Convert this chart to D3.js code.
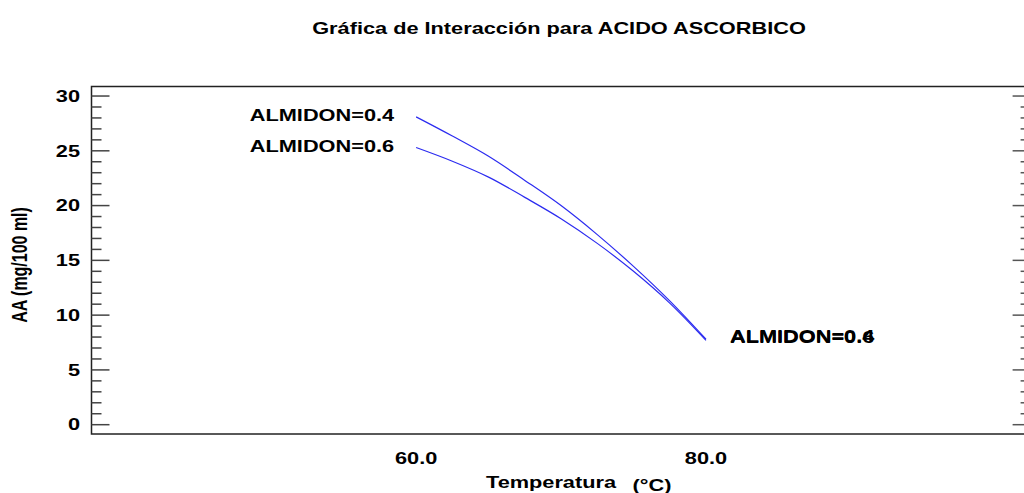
<!DOCTYPE html>
<html>
<head>
<meta charset="utf-8">
<script src="https://cdn.jsdelivr.net/npm/d3@7"></script>
<style>
  body { margin: 0; background: #fff; }
  text { font-family: "Liberation Sans", Arial, sans-serif; font-weight: bold; fill: #000; }
</style>
</head>
<body>
<div id="chart"></div>
<script>
// data
const temps = [60, 62.5, 65, 67.5, 70, 72.5, 75, 77.5, 80];
const almidon04 = [28.1, 26.35, 24.5, 22.3, 20.0, 17.35, 14.45, 11.3, 7.8];
const almidon06 = [25.3, 24.05, 22.6, 20.75, 18.8, 16.55, 14.0, 11.1, 7.7];
const seriesNames = ["ALMIDON=0.4", "ALMIDON=0.6"];
const xTickValues = [60, 80];
const yTickValues = [0, 5, 10, 15, 20, 25, 30];

const W = 1024, H = 493;
const sx = 1.36; // picture is stretched horizontally

const svg = d3.select("#chart").append("svg")
    .attr("width", W)
    .attr("height", H);

// scales
const x = d3.scaleLinear().domain([37.6, 102.4]).range([91.5, 1030.6]);
const y = d3.scaleLinear().domain([-0.85, 30.87]).range([434, 86.5]);

function label(g, tx, ty, str, anchor, size) {
    return g.append("text")
        .attr("transform", `translate(${tx},${ty}) scale(${sx},1)`)
        .attr("text-anchor", anchor)
        .attr("font-size", size || 16)
        .text(str);
}

// title
label(svg, 559, 34, "Gráfica de Interacción para ACIDO ASCORBICO", "middle");

// frame
svg.append("rect")
    .attr("x", x.range()[0])
    .attr("y", y.range()[1])
    .attr("width", x.range()[1] - x.range()[0])
    .attr("height", y.range()[0] - y.range()[1])
    .attr("fill", "none")
    .attr("stroke", "#222")
    .attr("stroke-width", 1.5);

// y ticks, left and right, major + minor
const minor = d3.range(0, 31, 1);
const left = x.range()[0], right = x.range()[1];
svg.append("g").selectAll("line.tk")
    .data(minor)
    .enter()
    .append("line")
    .attr("x1", left)
    .attr("x2", (d) => left + (d % 5 === 0 ? 18 : 10))
    .attr("y1", (d) => y(d))
    .attr("y2", (d) => y(d))
    .attr("stroke", "#444")
    .attr("stroke-width", 1.5);
svg.append("g").selectAll("line.tk")
    .data(minor)
    .enter()
    .append("line")
    .attr("x1", right)
    .attr("x2", (d) => right - (d % 5 === 0 ? 18 : 10))
    .attr("y1", (d) => y(d))
    .attr("y2", (d) => y(d))
    .attr("stroke", "#555")
    .attr("stroke-width", 1.5);

// tick labels
yTickValues.forEach((v) => label(svg, 80, y(v) + 5.8, v, "end"));
xTickValues.forEach((v) => label(svg, x(v), 464, d3.format(".1f")(v), "middle"));

// axis titles
label(svg, 551, 488, "Temperatura", "middle");
label(svg, 652, 491, "(°C)", "middle");
svg.append("text")
    .attr("transform", `translate(27,265) scale(${sx},1) rotate(-90)`)
    .attr("text-anchor", "middle")
    .attr("font-size", 16)
    .text("AA (mg/100 ml)");

// lines
const line = d3.line()
    .curve(d3.curveCatmullRom)
    .x((d, i) => x(temps[i]))
    .y((d) => y(d));

[almidon04, almidon06].forEach((vals, k) => {
    svg.append("path")
        .datum(vals)
        .attr("d", line)
        .attr("fill", "none")
        .attr("stroke", "#2b2bf0")
        .attr("stroke-width", 1.2);
    label(svg, x(temps[0]) - 22, y(vals[0]) + 4.5, seriesNames[k], "end");
    label(svg, x(temps[temps.length - 1]) + 24, y(vals[vals.length - 1]) + 3, seriesNames[k], "start");
});
</script>
</body>
</html>
